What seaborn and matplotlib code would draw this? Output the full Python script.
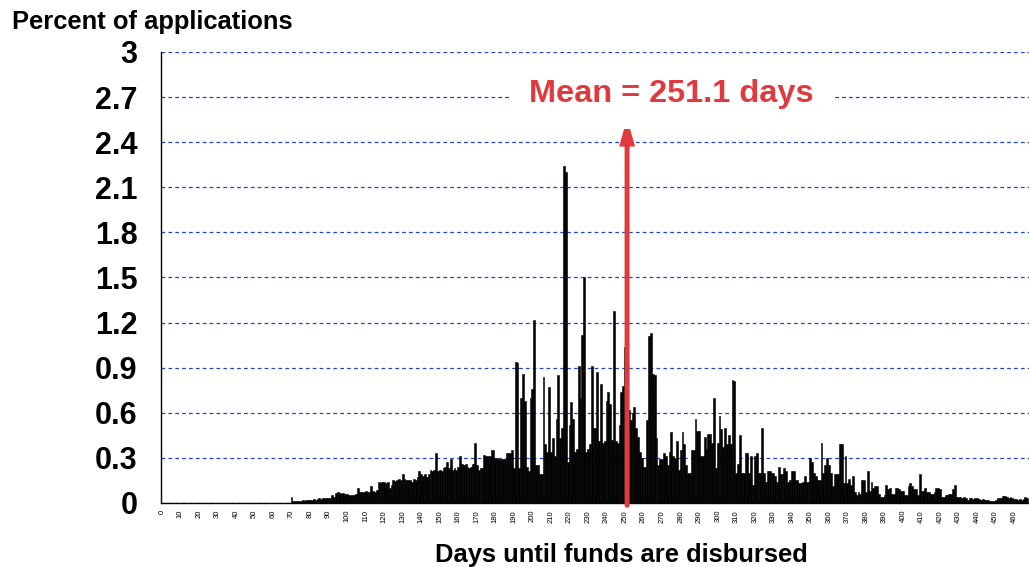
import pandas as pd
import matplotlib
matplotlib.use("Agg")
import matplotlib.pyplot as plt
import seaborn as sns

# share of applications (%) by days until funds are disbursed, day 0 .. 467
days = list(range(468))
pct = [
    0, 0, 0, 0, 0, 0, 0, 0, 0, 0,
    0, 0, 0, 0, 0, 0, 0, 0, 0, 0,
    0, 0, 0, 0, 0, 0, 0, 0, 0, 0,
    0, 0, 0, 0, 0, 0, 0, 0, 0, 0,
    0, 0, 0, 0, 0, 0, 0, 0, 0, 0,
    0, 0, 0, 0, 0, 0, 0, 0, 0, 0,
    0, 0, 0, 0, 0, 0, 0, 0, 0, 0,
    0.04, 0.01, 0.015, 0.015, 0.01, 0.015, 0.02, 0.015, 0.02, 0.02,
    0.02, 0.02, 0.025, 0.02, 0.025, 0.03, 0.025, 0.03, 0.035, 0.03,
    0.035, 0.03, 0.05, 0.04, 0.065, 0.07, 0.065, 0.06, 0.065, 0.06,
    0.06, 0.055, 0.05, 0.055, 0.05, 0.06, 0.1, 0.075, 0.07, 0.075,
    0.08, 0.075, 0.07, 0.11, 0.08, 0.075, 0.085, 0.14, 0.13, 0.14,
    0.14, 0.135, 0.14, 0.1, 0.12, 0.15, 0.145, 0.15, 0.16, 0.15,
    0.19, 0.16, 0.155, 0.15, 0.15, 0.14, 0.16, 0.15, 0.17, 0.21,
    0.19, 0.18, 0.19, 0.17, 0.19, 0.22, 0.21, 0.22, 0.33, 0.21,
    0.22, 0.21, 0.23, 0.24, 0.27, 0.23, 0.29, 0.22, 0.23, 0.22,
    0.24, 0.31, 0.26, 0.25, 0.26, 0.24, 0.23, 0.24, 0.26, 0.40,
    0.25, 0.22, 0.23, 0.23, 0.32, 0.31, 0.31, 0.31, 0.35, 0.35,
    0.30, 0.30, 0.29, 0.29, 0.29, 0.29, 0.33, 0.33, 0.33, 0.35,
    0.23, 0.94, 0.93, 0.23, 0.70, 0.86, 0.68, 0.24, 0.21, 0.70,
    0.76, 1.22, 0.25, 0.25, 0.19, 0.19, 0.84, 0.39, 0.34, 0.77,
    0.34, 0.43, 0.31, 0.56, 0.85, 0.43, 0.50, 2.24, 2.20, 0.27,
    0.52, 0.67, 0.56, 0.34, 0.36, 0.91, 0.70, 1.12, 1.50, 0.34,
    0.36, 0.39, 0.91, 0.50, 0.50, 0.87, 0.41, 0.79, 0.40, 0.41,
    0.68, 0.74, 0.66, 0.42, 1.28, 0.41, 0.40, 0.52, 0.74, 0.78,
    1.04, 1.03, 0.62, 0.55, 0.60, 0.64, 0.50, 0.44, 0.34, 0.30,
    0.24, 0.24, 0.55, 1.11, 1.13, 0.86, 0.85, 0.43, 0.25, 0.29,
    0.29, 0.33, 0.31, 0.25, 0.34, 0.47, 0.31, 0.30, 0.41, 0.22,
    0.35, 0.47, 0.39, 0.25, 0.20, 0.20, 0.35, 0.35, 0.56, 0.48,
    0.48, 0.31, 0.31, 0.44, 0.36, 0.46, 0.46, 0.40, 0.70, 0.23,
    0.40, 0.58, 0.49, 0.37, 0.50, 0.39, 0.45, 0.39, 0.82, 0.81,
    0.20, 0.26, 0.45, 0.20, 0.20, 0.33, 0.33, 0.20, 0.31, 0.12,
    0.31, 0.33, 0.20, 0.20, 0.50, 0.20, 0.14, 0.21, 0.21, 0.20,
    0.20, 0.18, 0.14, 0.24, 0.19, 0.19, 0.23, 0.21, 0.14, 0.15,
    0.21, 0.21, 0.15, 0.15, 0.135, 0.135, 0.14, 0.18, 0.14, 0.14,
    0.30, 0.27, 0.20, 0.18, 0.15, 0.15, 0.40, 0.20, 0.25, 0.30,
    0.25, 0.20, 0.11, 0.19, 0.19, 0.19, 0.39, 0.39, 0.13, 0.31,
    0.13, 0.16, 0.12, 0.18, 0.07, 0.05, 0.07, 0.06, 0.15, 0.15,
    0.07, 0.21, 0.08, 0.14, 0.10, 0.11, 0.11, 0.06, 0.04, 0.04,
    0.05, 0.12, 0.09, 0.10, 0.06, 0.06, 0.10, 0.10, 0.09, 0.08,
    0.08, 0.05, 0.05, 0.11, 0.13, 0.11, 0.09, 0.09, 0.05, 0.19,
    0.08, 0.08, 0.10, 0.07, 0.07, 0.06, 0.06, 0.07, 0.10, 0.10,
    0.09, 0.04, 0.04, 0.05, 0.05, 0.06, 0.06, 0.09, 0.12, 0.04,
    0.04, 0.04, 0.035, 0.04, 0.03, 0.02, 0.03, 0.03, 0.025, 0.03,
    0.03, 0.025, 0.02, 0.025, 0.02, 0.02, 0.02, 0.015, 0.015, 0.015,
    0.02, 0.03, 0.03, 0.035, 0.045, 0.045, 0.04, 0.03, 0.04, 0.035,
    0.025, 0.025, 0.02, 0.025, 0.02, 0.025, 0.04, 0.03,
]
mean_days = 251.1

y_ticks = [0, 0.3, 0.6, 0.9, 1.2, 1.5, 1.8, 2.1, 2.4, 2.7, 3]
y_tick_labels = ["0", "0.3", "0.6", "0.9", "1.2", "1.5", "1.8", "2.1", "2.4", "2.7", "3"]
x_ticks = list(range(0, 461, 10))

red = "#e0393e"

df = pd.DataFrame({"day": days, "pct": pct})

sns.set_style("white")
plt.rcParams["font.family"] = ["Liberation Sans", "DejaVu Sans"]
plt.rcParams["text.color"] = "black"
plt.rcParams["xtick.color"] = "black"
plt.rcParams["ytick.color"] = "black"

fig = plt.figure(figsize=(10.29, 5.67), dpi=100)
ax = fig.add_axes([0.1565, 0.1129, 0.8435, 0.7954])

sns.barplot(data=df, x="day", y="pct", color="black", width=1, native_scale=True,
            errorbar=None, edgecolor="black", linewidth=0.4, saturation=1, ax=ax)

ax.set_xlim(-0.4, 468)
ax.set_ylim(0, 3)
ax.set_yticks(y_ticks)
ax.set_yticklabels(y_tick_labels, fontsize=22, fontweight="bold", color="black")
ax.set_xticks(x_ticks)
ax.set_xticklabels([str(t) for t in x_ticks], rotation=90, fontsize=5.5, color="black")
ax.tick_params(axis="y", direction="inout", length=16, width=1, pad=9)
ax.tick_params(axis="x", direction="inout", length=6, width=0.8, pad=2)
ax.set_xlabel("")
ax.set_ylabel("")

ax.yaxis.grid(True, color="#2346c8", linestyle=(0, (3, 2.5)), linewidth=0.9)
ax.xaxis.grid(False)
ax.set_axisbelow(True)

for side in ["top", "right"]:
    ax.spines[side].set_visible(False)
for side in ["left", "bottom"]:
    ax.spines[side].set_color("black")
    ax.spines[side].set_linewidth(1)

# mean marker
ax.annotate("", xy=(mean_days, 2.56), xytext=(mean_days, -0.015),
            arrowprops=dict(arrowstyle="-|>,head_length=0.5,head_width=0.14",
                            color=red, lw=3.6, mutation_scale=24, joinstyle="miter",
                            shrinkA=0, shrinkB=0), annotation_clip=False)
ax.text(275, 2.72, "Mean = 251.1 days", color=red, fontsize=23.4, fontweight="bold",
        ha="center", va="center",
        bbox=dict(boxstyle="square,pad=0.6", facecolor="white", edgecolor="none"))

fig.text(12 / 1029, 1 - 22 / 567, "Percent of applications", fontsize=18.4,
         fontweight="bold", ha="left", va="center", color="black")
fig.text(621 / 1029, 1 - 555 / 567, "Days until funds are disbursed", fontsize=18.4,
         fontweight="bold", ha="center", va="center", color="black")

fig.savefig("out.png", dpi=100)
